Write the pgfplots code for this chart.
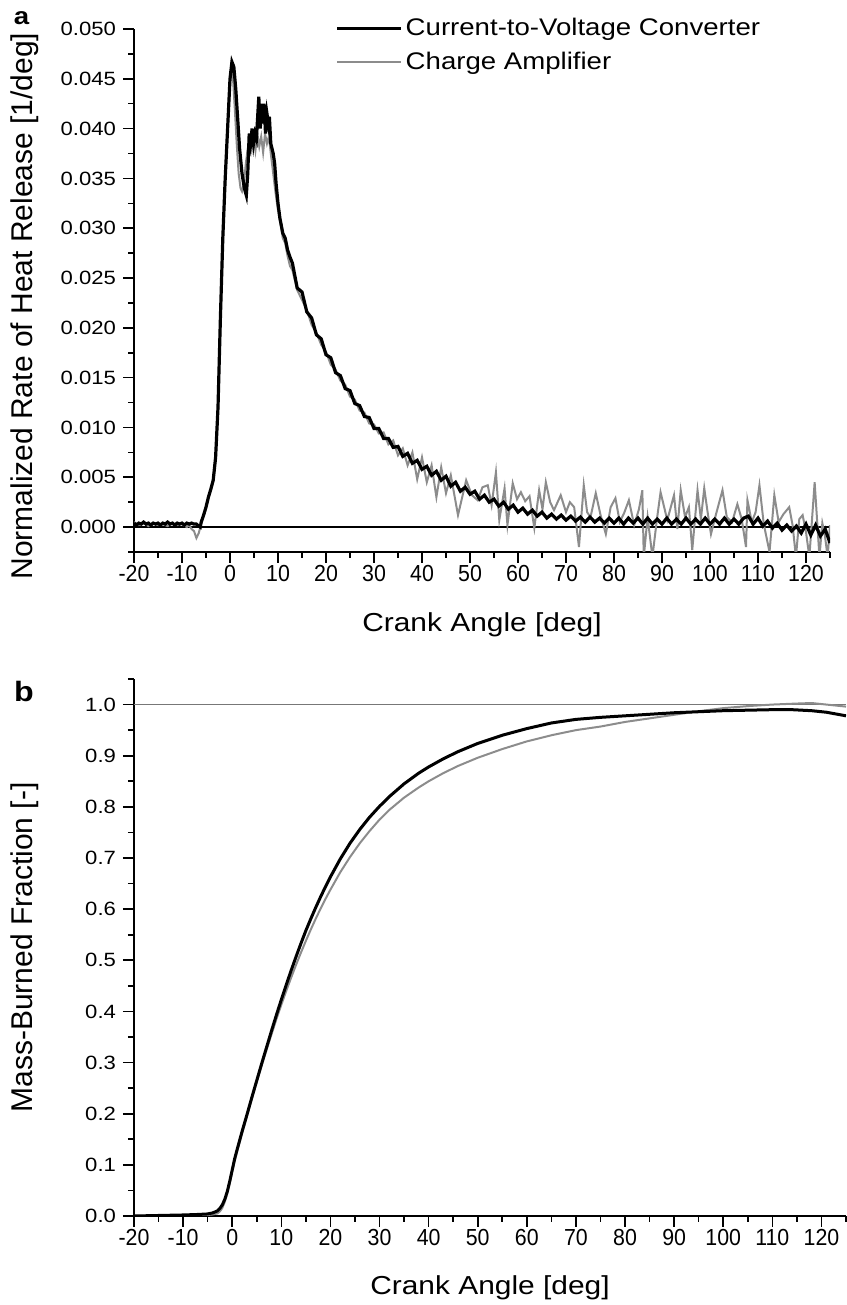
\documentclass[border=0pt]{standalone}
\usepackage{fontspec}
\setmainfont[FakeStretch=1.15]{Liberation Sans}
\newfontfamily\xtickfamily[FakeStretch=0.92]{Liberation Sans}
\newfontfamily\ylabfamily{Liberation Sans}
\usepackage{pgfplots}
\pgfplotsset{compat=1.18}
\definecolor{cagray}{HTML}{8C8C8C}
\definecolor{refgray}{HTML}{777777}
\pgfplotsset{
  panel/.style={
    scale only axis,
    axis x line=bottom, axis y line=left,
    axis line style={-, line width=0.8pt, black},
    tick align=outside,
    major tick length=5.5pt, minor tick length=3pt,
    every tick/.append style={black, line width=0.8pt},
    xmin=-20, xmax=125,
    xtick={-20,-10,0,10,20,30,40,50,60,70,80,90,100,110,120},
    xticklabels={-20,-10,0,10,20,30,40,50,60,70,80,90,100,110,120},
    minor xtick={-15,-5,5,15,25,35,45,55,65,75,85,95,105,115,125},
    xticklabel style={font=\xtickfamily\fontsize{11.6}{13}\selectfont, inner sep=1pt},
    yticklabel style={font=\fontsize{9.6}{11}\selectfont},
    scaled y ticks=false,
    xlabel style={font=\fontsize{13}{15}\selectfont, anchor=center},
    ylabel style={font=\ylabfamily\fontsize{15}{17}\selectfont, anchor=center},
  }
}
\begin{document}
\begin{tikzpicture}
\path[use as bounding box] (0,0) rectangle (423pt,652.5pt);
% ---------------- panel a ----------------
\begin{axis}[panel,
  at={(67pt,376.5pt)}, anchor=south west,
  width=348pt, height=261.5pt,
  ymin=-0.0025, ymax=0.05,
  ytick={0,0.005,0.01,0.015,0.02,0.025,0.03,0.035,0.04,0.045,0.05},
  yticklabels={0.000,0.005,0.010,0.015,0.020,0.025,0.030,0.035,0.040,0.045,0.050},
  minor ytick={-0.0025,0.0025,0.0075,0.0125,0.0175,0.0225,0.0275,0.0325,0.0375,0.0425,0.0475},
  xlabel={Crank Angle [deg]},
  ylabel={Normalized Rate of Heat Release [1/deg]},
  xlabel style={at={(axis description cs:0.5,-0.14)}},
  ylabel style={at={(axis description cs:-0.1566,0.47)}},
  legend style={at={(axis description cs:0.289,1.027)}, anchor=north west,
    draw=none, fill=none, inner sep=0pt, row sep=3.5pt,
    font=\fontsize{12}{14}\selectfont, nodes={inner sep=1.5pt}},
  legend cell align=left,
  legend image code/.code={\draw[#1] (0pt,0pt) -- (32pt,0pt);},
  reverse legend,
]
\addplot[black, line width=0.65pt, forget plot] coordinates {(-20,0) (125,0)};
\addplot[cagray, line width=1pt] coordinates {
(-20,0.0005) (-19,0.0002) (-18,0.0004) (-17,0.0001) (-16,0.0004) (-15,0.0002) (-14,0.0003) (-13,0.0001)
(-12,0.0004) (-11,0.0002) (-10,0.0003) (-9,0.0000) (-8.5,0.0002) (-8,-0.0002) (-7.5,-0.0004) (-7,-0.0011)
(-6.5,-0.0006) (-6,0.0004) (-5.5,0.0011) (-5,0.0019) (-4.5,0.0029) (-4,0.0037) (-3.5,0.0046) (-3,0.0068)
(-2.5,0.0118) (-2,0.0205) (-1.5,0.0285) (-1,0.0345) (-0.5,0.0398) (0,0.0445) (0.3,0.0460) (0.6,0.0452)
(1.0,0.0420) (1.4,0.0385) (1.8,0.0355) (2.2,0.0340) (2.5,0.0337) (2.9,0.0345) (3.3,0.0365) (3.7,0.0380)
(4.1,0.0388) (4.5,0.0385) (4.9,0.0392) (5.3,0.0378) (5.7,0.0395) (6.1,0.0382) (6.5,0.0392) (6.9,0.0376)
(7.3,0.0395) (7.7,0.0385) (8.1,0.0392) (8.5,0.0375) (9.0,0.0355) (9.5,0.0335) (10,0.0318) (10.5,0.0305)
(11,0.0290) (11.5,0.0285) (12,0.0272) (12.5,0.0262) (13,0.0258) (14,0.0238) (15,0.0228) (16,0.0218)
(17,0.0203) (18,0.0195) (19,0.0183) (20,0.0176) (21,0.0163) (22,0.0158) (23,0.0147) (24,0.0143)
(25,0.0131) (26,0.0128) (27,0.0117) (28,0.0115) (29,0.0104) (30,0.0103) (31,0.0094) (32,0.0095)
(33,0.0083) (34,0.0087) (35,0.0072) (36,0.0079) (37,0.0062) (38,0.0075) (39,0.0048) (40,0.0070)
(41,0.0045) (42,0.0062) (43,0.0030) (44,0.0060) (45,0.0034) (46,0.0052) (47.5,0.0012) (49.2,0.0047)
(50.4,0.0032) (51.6,0.0027) (52.6,0.0040) (53.7,0.0042) (54.5,0.0022) (55.4,0.0055) (56.1,0.0007) (57.2,0.0039)
(57.8,0.0002) (58.9,0.0044) (59.8,0.0028) (60.6,0.0035) (61.5,0.0026) (62.4,0.0031) (63.4,-0.0001) (64.4,0.0037)
(65.1,0.0018) (65.8,0.0045) (66.7,0.0025) (67.5,0.0017) (68.9,0.0032) (70.0,0.0015) (70.8,0.0025) (71.7,0.0020)
(72.7,-0.0020) (73.7,0.0042) (74.4,0.0015) (75.1,0.0010) (76.2,0.0034) (77.2,0.0012) (78.3,-0.0007) (79.3,0.0020)
(80.3,0.0029) (81.2,0.0005) (82.1,0.0014) (83.1,0.0027) (84.2,0.0002) (85.2,0.0018) (85.9,0.0037) (86.2,-0.0030)
(87.0,0.0010) (88.0,-0.0030) (89.0,0.0010) (89.7,0.0035) (91.1,0.0007) (92.5,0.0032) (93.2,-0.0002) (93.9,0.0037)
(94.8,0.0010) (95.6,0.0020) (96.3,-0.0023) (97.4,0.0037) (98.1,0.0008) (98.8,0.0039) (99.5,0.0015) (100.2,-0.0007)
(101.2,0.0012) (102.6,0.0037) (103.5,0.0010) (104.6,0.0005) (105.7,0.0023) (106.6,0.0008) (107.5,-0.0020) (107.8,0.0027)
(108.7,0.0005) (109.5,0.0015) (110.3,0.0042) (111.2,0.0003) (112.4,-0.0025) (113.4,0.0032) (114.3,0.0005) (115.3,0.0013)
(116.5,0.0020) (117.2,0.0002) (117.9,-0.0030) (118.6,0.0008) (119.3,0.0012) (120.0,-0.0005) (120.7,-0.0030) (121.8,0.0045)
(122.8,-0.0030) (123.4,0.0004) (123.9,-0.0007) (124.5,-0.0030) (125,0.0002)
};
\addlegendentry{Charge Amplifier}
\addplot[black, line width=1.6pt] coordinates {
(-20,0.0004) (-19.5,0.0002) (-19,0.0004) (-18.5,0.0003) (-18,0.0005) (-17.5,0.0003) (-17,0.0004) (-16.5,0.0002)
(-16,0.0004) (-15.5,0.0003) (-15,0.0004) (-14.5,0.0002) (-14,0.0004) (-13.5,0.0003) (-13,0.0005) (-12.5,0.0003)
(-12,0.0004) (-11.5,0.0002) (-11,0.0004) (-10.5,0.0003) (-10,0.0004) (-9.5,0.0002) (-9,0.0004) (-8.5,0.0003)
(-8,0.0004) (-7.5,0.0003) (-7,0.0003) (-6.5,0.0001) (-6.2,0.0000) (-6,0.0005) (-5.5,0.0012) (-5,0.0020)
(-4.5,0.0030) (-4,0.0038) (-3.5,0.0047) (-3,0.0070) (-2.5,0.0120) (-2,0.0210) (-1.5,0.0290) (-1,0.0350)
(-0.5,0.0400) (0,0.0450) (0.4,0.0467) (0.8,0.0462) (1.2,0.0440) (1.6,0.0410) (2.0,0.0380) (2.5,0.0355)
(3.0,0.0340) (3.4,0.0333) (3.7,0.0355) (4.0,0.0395) (4.3,0.0385) (4.6,0.0400) (4.9,0.0385) (5.2,0.0395)
(5.5,0.0390) (5.8,0.0415) (6.0,0.0432) (6.3,0.0400) (6.6,0.0425) (6.9,0.0405) (7.1,0.0425) (7.4,0.0395)
(7.7,0.0415) (8.0,0.0405) (8.2,0.0412) (8.5,0.0385) (9.0,0.0375) (9.3,0.0365) (9.6,0.0345) (10.0,0.0325)
(10.4,0.0310) (11.0,0.0295) (11.5,0.0290) (12.0,0.0278) (12.5,0.0271) (13,0.0265) (14,0.0240) (15,0.0236)
(16,0.0216) (17,0.0210) (18,0.0193) (19,0.0189) (20,0.0173) (21,0.0170) (22,0.0155) (23,0.0152)
(24,0.0139) (25,0.0137) (26,0.0124) (27,0.0122) (28,0.0111) (29,0.0110) (30,0.0099) (31,0.0099)
(32,0.0089) (33,0.0089) (34,0.0080) (35,0.0081) (36,0.0071) (37,0.0074) (38,0.0064) (39,0.0067)
(40,0.0058) (41,0.0061) (42,0.0052) (43,0.0056) (44,0.0047) (45,0.0051) (46,0.0041) (47,0.0045)
(48,0.0036) (49,0.0040) (50,0.0033) (51,0.0036) (52,0.0028) (53,0.0032) (54,0.0025) (55,0.0028)
(56,0.0021) (57,0.0025) (58,0.0018) (59,0.0022) (60,0.0015) (61,0.0019) (62,0.0013) (63,0.0017)
(64,0.0011) (65,0.0015) (66,0.0009) (67,0.0013) (68,0.0008) (69,0.0012) (70,0.0007) (71,0.0011)
(72,0.0006) (73,0.0010) (74,0.0005) (75,0.0010) (76,0.0005) (77,0.0009) (78,0.0004) (79,0.0009)
(80,0.0004) (81,0.0009) (82,0.0003) (83,0.0009) (84,0.0004) (85,0.0009) (86,0.0003) (87,0.0009)
(88,0.0003) (89,0.0008) (90,0.0003) (91,0.0009) (92,0.0003) (93,0.0008) (94,0.0003) (95,0.0009)
(96,0.0003) (97,0.0008) (98,0.0003) (99,0.0009) (100,0.0003) (101,0.0008) (102,0.0003) (103,0.0009)
(104,0.0003) (105,0.0008) (106,0.0003) (107,0.0009) (108,0.0011) (109,0.0003) (110,0.0009) (111,0.0001)
(112,0.0006) (113,-0.0001) (114,0.0004) (115,-0.0003) (116,0.0002) (117,-0.0004) (118,0.0001) (119,-0.0006)
(120,0.0003) (121,-0.0008) (122,0.0002) (123,-0.0009) (124,-0.0002) (125,-0.0016)
};
\addlegendentry{Current-to-Voltage Converter}
\end{axis}
% ---------------- panel b ----------------
\begin{axis}[panel,
  at={(67pt,44.5pt)}, anchor=south west,
  width=356pt, height=268.5pt,
  ymin=0, ymax=1.05,
  ytick={0,0.1,0.2,0.3,0.4,0.5,0.6,0.7,0.8,0.9,1.0},
  yticklabels={0.0,0.1,0.2,0.3,0.4,0.5,0.6,0.7,0.8,0.9,1.0},
  minor ytick={0.05,0.15,0.25,0.35,0.45,0.55,0.65,0.75,0.85,0.95,1.05},
  xlabel={Crank Angle [deg]},
  ylabel={Mass-Burned Fraction [-]},
  xlabel style={at={(axis description cs:0.5,-0.134)}},
  ylabel style={at={(axis description cs:-0.153,0.5)}},
]
\addplot[refgray, line width=0.65pt] coordinates {(-20,1) (125,1)};
\addplot[cagray, line width=1pt] coordinates {
(-20,0.000) (-10,0.001) (-5,0.002) (-4,0.003) (-3,0.005) (-2.5,0.009) (-2,0.016) (-1.5,0.028)
(-1,0.044) (-0.5,0.064) (0,0.086) (0.5,0.107) (1,0.126) (2,0.161) (3,0.195) (4,0.229)
(5,0.262) (6,0.294) (7,0.325) (8,0.355) (9,0.385) (10,0.413) (11,0.440) (12,0.466)
(13,0.491) (14,0.515) (15,0.538) (16,0.560) (17,0.581) (18,0.601) (19,0.620) (20,0.638)
(22,0.672) (24,0.702) (26,0.729) (28,0.753) (30,0.775) (32,0.794) (35,0.818) (38,0.838)
(40,0.850) (43,0.866) (46,0.880) (50,0.896) (55,0.913) (60,0.928) (65,0.940) (70,0.950)
(75,0.957) (80,0.966) (85,0.973) (90,0.980) (95,0.987) (100,0.993) (105,0.997) (110,1.000)
(115,1.002) (118,1.003) (121,1.000) (125,0.996)
};
\addplot[black, line width=1.5pt] coordinates {
(-20,0.000) (-15,0.001) (-10,0.002) (-7,0.003) (-5,0.004) (-4,0.006) (-3,0.010) (-2.5,0.015)
(-2,0.022) (-1.5,0.033) (-1,0.048) (-0.5,0.068) (0,0.090) (0.5,0.112) (1,0.130) (2,0.165)
(3,0.198) (4,0.232) (5,0.265) (6,0.298) (7,0.330) (8,0.362) (9,0.393) (10,0.423)
(11,0.452) (12,0.480) (13,0.507) (14,0.533) (15,0.558) (16,0.581) (17,0.603) (18,0.624)
(19,0.644) (20,0.663) (22,0.698) (24,0.729) (26,0.756) (28,0.780) (30,0.801) (32,0.820)
(35,0.845) (38,0.866) (40,0.878) (43,0.894) (46,0.908) (50,0.924) (55,0.940) (60,0.953)
(65,0.964) (70,0.971) (75,0.975) (80,0.978) (85,0.981) (90,0.984) (95,0.986) (100,0.988)
(105,0.989) (110,0.990) (114,0.990) (118,0.988) (121,0.985) (125,0.978)
};
\end{axis}
\node[font=\bfseries\fontsize{12}{14}\selectfont, anchor=base] at (10.75pt,640pt) {a};
\node[font=\bfseries\fontsize{14}{16}\selectfont, anchor=base] at (12pt,301.5pt) {b};
\end{tikzpicture}
\end{document}
